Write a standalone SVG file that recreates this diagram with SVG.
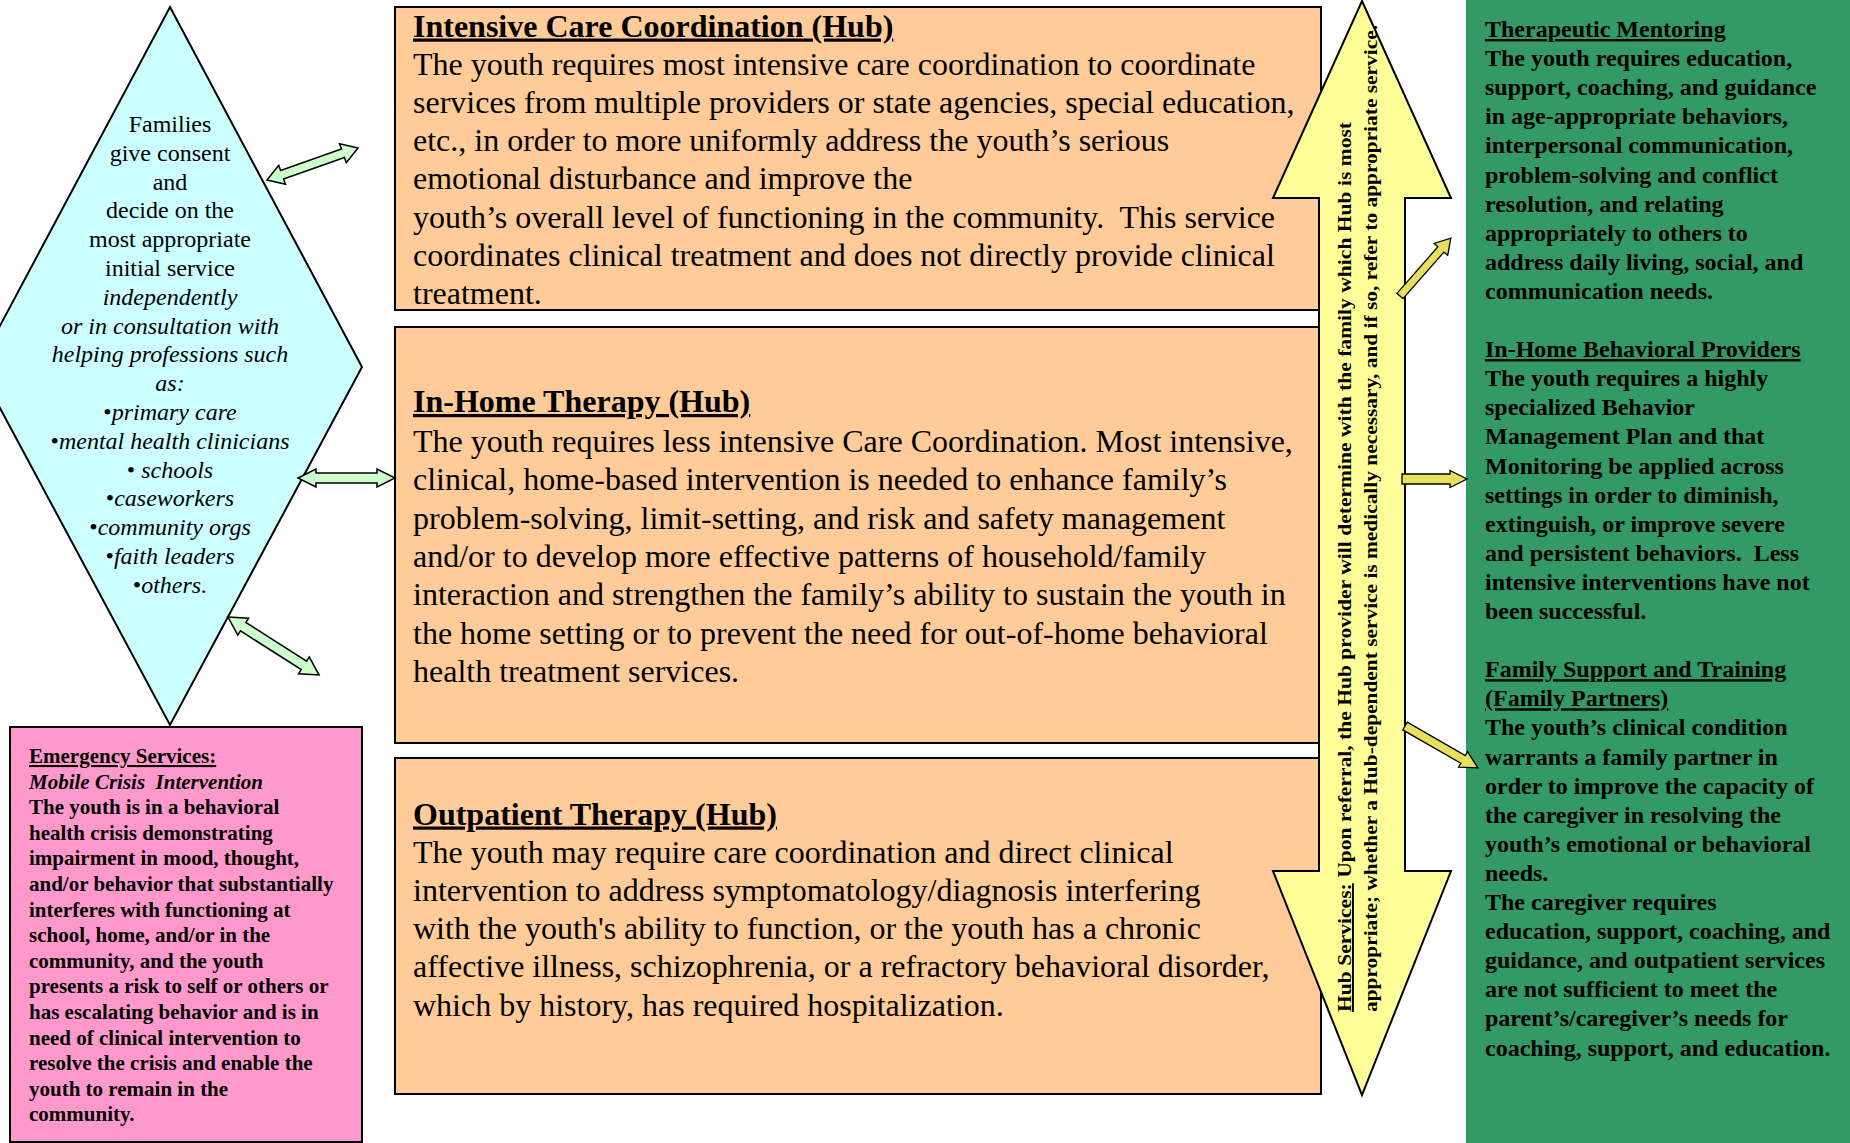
<svg xmlns="http://www.w3.org/2000/svg" width="1850" height="1143" viewBox="0 0 1850 1143">
<style>
text{font-family:"Liberation Serif","Times New Roman",serif;fill:#000;}
.dt{font-size:24px;text-anchor:middle;}
.it{font-style:italic;}
.bt{font-size:32px;}
.ttl{font-size:32px;font-weight:bold;text-decoration:underline;}
.pk{font-size:21px;font-weight:bold;}
.gr{font-size:24px;font-weight:bold;}
.u{text-decoration:underline;}
.vt{font-size:19px;font-weight:bold;}
.box{fill:#FFCC99;stroke:#000;stroke-width:2;}
.garrow{fill:#CCFFCC;stroke:#000;stroke-width:1.5;stroke-linejoin:miter;}
.yarrow{fill:#E6E05C;stroke:#000;stroke-width:1.3;}
</style>
<rect x="0" y="0" width="1850" height="1143" fill="#fff"/>

<g id="hub-services-panel">
<rect x="1466" y="0" width="384" height="1143" fill="#339966"/>
<text class="gr" x="1485" y="37"><tspan class="u">Therapeutic Mentoring</tspan></text>
<text class="gr" x="1485" y="66.1">The youth requires education,</text>
<text class="gr" x="1485" y="95.2">support, coaching, and guidance</text>
<text class="gr" x="1485" y="124.3">in age-appropriate behaviors,</text>
<text class="gr" x="1485" y="153.4">interpersonal communication,</text>
<text class="gr" x="1485" y="182.5">problem-solving and conflict</text>
<text class="gr" x="1485" y="211.6">resolution, and relating</text>
<text class="gr" x="1485" y="240.7">appropriately to others to</text>
<text class="gr" x="1485" y="269.8">address daily living, social, and</text>
<text class="gr" x="1485" y="298.9">communication needs.</text>
<text class="gr" x="1485" y="357.1"><tspan class="u">In-Home Behavioral Providers</tspan></text>
<text class="gr" x="1485" y="386.2">The youth requires a highly</text>
<text class="gr" x="1485" y="415.3">specialized Behavior</text>
<text class="gr" x="1485" y="444.4">Management Plan and that</text>
<text class="gr" x="1485" y="473.5">Monitoring be applied across</text>
<text class="gr" x="1485" y="502.6">settings in order to diminish,</text>
<text class="gr" x="1485" y="531.7">extinguish, or improve severe</text>
<text class="gr" x="1485" y="560.8" xml:space="preserve">and persistent behaviors.  Less</text>
<text class="gr" x="1485" y="589.9">intensive interventions have not</text>
<text class="gr" x="1485" y="619">been successful.</text>
<text class="gr" x="1485" y="677.2"><tspan class="u">Family Support and Training</tspan></text>
<text class="gr" x="1485" y="706.3"><tspan class="u">(Family Partners)</tspan></text>
<text class="gr" x="1485" y="735.4">The youth’s clinical condition</text>
<text class="gr" x="1485" y="764.5">warrants a family partner in</text>
<text class="gr" x="1485" y="793.6">order to improve the capacity of</text>
<text class="gr" x="1485" y="822.7">the caregiver in resolving the</text>
<text class="gr" x="1485" y="851.8">youth’s emotional or behavioral</text>
<text class="gr" x="1485" y="880.9">needs.</text>
<text class="gr" x="1485" y="910">The caregiver requires</text>
<text class="gr" x="1485" y="939.1">education, support, coaching, and</text>
<text class="gr" x="1485" y="968.2">guidance, and outpatient services</text>
<text class="gr" x="1485" y="997.3">are not sufficient to meet the</text>
<text class="gr" x="1485" y="1026.4">parent’s/caregiver’s needs for</text>
<text class="gr" x="1485" y="1055.5">coaching, support, and education.</text>
</g>

<g id="families-diamond">
<polygon points="170,7 362,367 170,725 -22,367" fill="#CCFFFF" stroke="#000" stroke-width="2"/>
<text class="dt" x="170" y="132">Families</text>
<text class="dt" x="170" y="161">give consent</text>
<text class="dt" x="170" y="190">and</text>
<text class="dt" x="170" y="218">decide on the</text>
<text class="dt" x="170" y="247">most appropriate</text>
<text class="dt" x="170" y="276">initial service</text>
<text class="dt it" x="170" y="305">independently</text>
<text class="dt it" x="170" y="334">or in consultation with</text>
<text class="dt it" x="170" y="362">helping professions such</text>
<text class="dt it" x="170" y="391">as:</text>
<text class="dt" x="170" y="420">•<tspan class="it">primary care</tspan></text>
<text class="dt" x="170" y="449">•<tspan class="it">mental health clinicians</tspan></text>
<text class="dt" x="170" y="478" xml:space="preserve">• <tspan class="it">schools</tspan></text>
<text class="dt" x="170" y="506">•<tspan class="it">caseworkers</tspan></text>
<text class="dt" x="170" y="535">•<tspan class="it">community orgs</tspan></text>
<text class="dt" x="170" y="564">•<tspan class="it">faith leaders</tspan></text>
<text class="dt" x="170" y="593">•<tspan class="it">others.</tspan></text>
</g>

<g id="emergency-services">
<rect x="10" y="727" width="352" height="415" fill="#FF99CC" stroke="#000" stroke-width="2"/>
<text class="pk" x="29" y="763"><tspan class="u">Emergency Services:</tspan></text>
<text class="pk it" x="29" y="788.6" xml:space="preserve">Mobile Crisis  Intervention</text>
<text class="pk" x="29" y="814.2">The youth is in a behavioral</text>
<text class="pk" x="29" y="839.8">health crisis demonstrating</text>
<text class="pk" x="29" y="865.4">impairment in mood, thought,</text>
<text class="pk" x="29" y="891">and/or behavior that substantially</text>
<text class="pk" x="29" y="916.6">interferes with functioning at</text>
<text class="pk" x="29" y="942.2">school, home, and/or in the</text>
<text class="pk" x="29" y="967.8">community, and the youth</text>
<text class="pk" x="29" y="993.4">presents a risk to self or others or</text>
<text class="pk" x="29" y="1019">has escalating behavior and is in</text>
<text class="pk" x="29" y="1044.6">need of clinical intervention to</text>
<text class="pk" x="29" y="1070.2">resolve the crisis and enable the</text>
<text class="pk" x="29" y="1095.8">youth to remain in the</text>
<text class="pk" x="29" y="1121.4">community.</text>
</g>

<g id="intensive-care-coordination">
<rect class="box" x="395" y="7" width="926" height="303"/>
<text class="ttl" x="413" y="36.5">Intensive Care Coordination (Hub)</text>
<text class="bt" x="413" y="74.5">The youth requires most intensive care coordination to coordinate</text>
<text class="bt" x="413" y="112.8">services from multiple providers or state agencies, special education,</text>
<text class="bt" x="413" y="151.1">etc., in order to more uniformly address the youth’s serious</text>
<text class="bt" x="413" y="189.4">emotional disturbance and improve the</text>
<text class="bt" x="413" y="227.7" xml:space="preserve">youth’s overall level of functioning in the community.  This service</text>
<text class="bt" x="413" y="266">coordinates clinical treatment and does not directly provide clinical</text>
<text class="bt" x="413" y="304.3">treatment.</text>
</g>

<g id="in-home-therapy">
<rect class="box" x="395" y="327" width="926" height="416"/>
<text class="ttl" x="413" y="412">In-Home Therapy (Hub)</text>
<text class="bt" x="413" y="452">The youth requires less intensive Care Coordination. Most intensive,</text>
<text class="bt" x="413" y="490.3">clinical, home-based intervention is needed to enhance family’s</text>
<text class="bt" x="413" y="528.6">problem-solving, limit-setting, and risk and safety management</text>
<text class="bt" x="413" y="566.9">and/or to develop more effective patterns of household/family</text>
<text class="bt" x="413" y="605.2">interaction and strengthen the family’s ability to sustain the youth in</text>
<text class="bt" x="413" y="643.5">the home setting or to prevent the need for out-of-home behavioral</text>
<text class="bt" x="413" y="681.8">health treatment services.</text>
</g>

<g id="outpatient-therapy">
<rect class="box" x="395" y="758" width="926" height="336"/>
<text class="ttl" x="413" y="824.5">Outpatient Therapy (Hub)</text>
<text class="bt" x="413" y="862.5">The youth may require care coordination and direct clinical</text>
<text class="bt" x="413" y="900.8">intervention to address symptomatology/diagnosis interfering</text>
<text class="bt" x="413" y="939.1">with the youth's ability to function, or the youth has a chronic</text>
<text class="bt" x="413" y="977.4">affective illness, schizophrenia, or a refractory behavioral disorder,</text>
<text class="bt" x="413" y="1015.7">which by history, has required hospitalization.</text>
</g>

<g id="hub-services-arrow">
<polygon points="1362,1 1451,198 1405,198 1405,871 1451,871 1362,1095 1273,871 1319,871 1319,198 1273,198" fill="#FFFF99" stroke="#000" stroke-width="2" stroke-linejoin="miter"/>
<text class="vt" transform="translate(1351,1012) rotate(-90)" textLength="890" lengthAdjust="spacingAndGlyphs"><tspan class="u">Hub Services:</tspan> Upon referral, the Hub provider will determine with the family which Hub is most</text>
<text class="vt" transform="translate(1377,1012) rotate(-90)" textLength="987" lengthAdjust="spacingAndGlyphs">appropriate; whether a Hub-dependent service is medically necessary, and if so, refer to appropriate service.</text>
</g>

<g id="connectors">
<path class="garrow" transform="translate(267,180) rotate(-19.4)" d="M0,0 L16,-10 L16,-4.5 L80.5,-4.5 L80.5,-10 L96.5,0 L80.5,10 L80.5,4.5 L16,4.5 L16,10 Z"/>
<path class="garrow" transform="translate(298,478)" d="M0,0 L18,-9 L18,-5 L79,-5 L79,-9 L97,0 L79,9 L79,5 L18,5 L18,9 Z"/>
<path class="garrow" transform="translate(228,617) rotate(32.5)" d="M0,0 L18,-10 L18,-5 L90,-5 L90,-10 L108,0 L90,10 L90,5 L18,5 L18,10 Z"/>
<path class="yarrow" transform="translate(1400,296) rotate(-48.7)" d="M0,-4 L62,-4 L62,-9 L77,0 L62,9 L62,4 L0,4 Z"/>
<path class="yarrow" transform="translate(1402,479)" d="M0,-5 L48,-5 L48,-8.5 L65,0 L48,8.5 L48,5 L0,5 Z"/>
<path class="yarrow" transform="translate(1405,726) rotate(29.9)" d="M0,-4.5 L67,-4.5 L67,-9 L84,0 L67,9 L67,4.5 L0,4.5 Z"/>
</g>
</svg>
